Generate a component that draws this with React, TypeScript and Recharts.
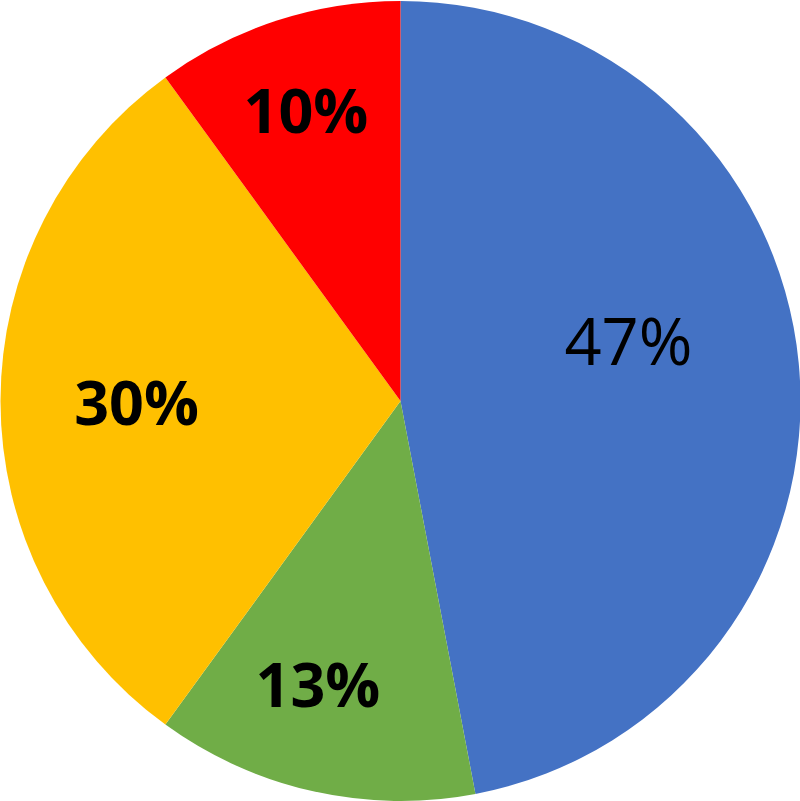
import React from "react";
import { PieChart, Pie, Cell } from "recharts";

const categories = ["A", "B", "C", "D"];
const values = [47, 13, 30, 10];

const COLORS = ["#4472C4", "#70AD47", "#FFC000", "#FF0000"];
const LABEL_WEIGHTS = [400, 700, 700, 700];
const LABEL_SIZES = [65, 61, 61, 61];
// label placement (radius fraction, angle shift in degrees) mimicking best-fit placement
const LABEL_RADIUS = [0.59, 0.735, 0.66, 0.765];
const LABEL_ANGLE_SHIFT = [9.6, -3.7, 0, 0];

const data = categories.map((name, i) => ({ name, value: values[i] }));

const RAD = Math.PI / 180;

const renderLabel = (props: any) => {
  const { cx, cy, midAngle, outerRadius, index, value } = props;
  const r = outerRadius * LABEL_RADIUS[index];
  const a = midAngle + LABEL_ANGLE_SHIFT[index];
  const x = cx + r * Math.cos(-a * RAD);
  const y = cy + r * Math.sin(-a * RAD);
  return (
    <text
      x={x}
      y={y}
      fill="#000"
      textAnchor="middle"
      dominantBaseline="central"
      fontFamily="'Open Sans', sans-serif"
      fontSize={LABEL_SIZES[index]}
      fontWeight={LABEL_WEIGHTS[index]}
    >
      {`${value}%`}
    </text>
  );
};

export default function App() {
  return (
    <div style={{ position: "absolute", left: 0, top: 0, width: 800, height: 801, background: "#fff" }}>
      <PieChart width={800} height={801} margin={{ top: 0, right: 0, bottom: 0, left: 0 }}>
        <Pie
          data={data}
          dataKey="value"
          nameKey="name"
          cx={400.5}
          cy={401}
          outerRadius={400}
          startAngle={90}
          endAngle={-270}
          stroke="none"
          labelLine={false}
          label={renderLabel}
          isAnimationActive={false}
        >
          {data.map((d, i) => (
            <Cell key={d.name} fill={COLORS[i]} />
          ))}
        </Pie>
      </PieChart>
    </div>
  );
}
